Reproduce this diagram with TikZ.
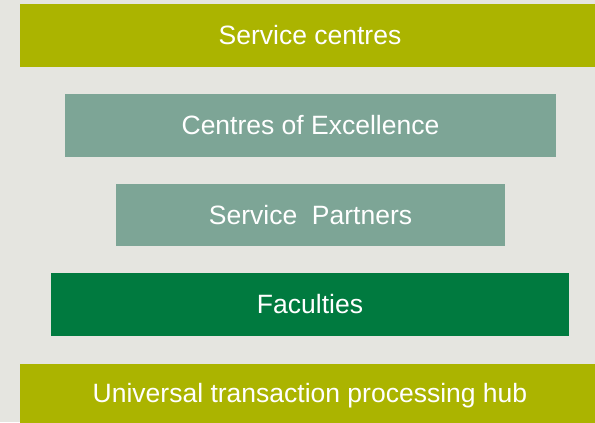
\documentclass[tikz,border=0pt]{standalone}
\usepackage{fontspec}
\setmainfont{Liberation Sans}
\usepackage{tikz}

\definecolor{pagegrey}{HTML}{E5E5E0}
\definecolor{olive}{HTML}{ABB400}
\definecolor{sage}{HTML}{7DA596}
\definecolor{darkgreen}{HTML}{007A3F}

\tikzset{
  layer/.style={inner sep=0pt, text=white, font=\fontsize{26.5bp}{30bp}\selectfont},
  bar/.style={layer, fill=olive},
  tier/.style={layer, fill=sage},
}

\begin{document}
\begin{tikzpicture}[x=1bp, y=-1bp]
\fill[pagegrey] (0,0) rectangle (595,422);
\clip (0,0) rectangle (595,422);
% outer bars
\node[bar, minimum width=580bp, minimum height=63bp] (service) at (310,35.5) {Service centres};
\node[bar, minimum width=580bp, minimum height=64bp] (hub) at (310,396) {Universal transaction processing hub};
% middle tiers
\node[tier, minimum width=491bp, minimum height=63bp] (excellence) at (310.5,125.5) {Centres of Excellence};
\node[tier, minimum width=389bp, minimum height=62bp] (partners) at (310.5,215) {Service\ \ Partners};
\node[layer, fill=darkgreen, minimum width=518bp, minimum height=63bp] (faculties) at (310,304.5) {Faculties};
\end{tikzpicture}
\end{document}
